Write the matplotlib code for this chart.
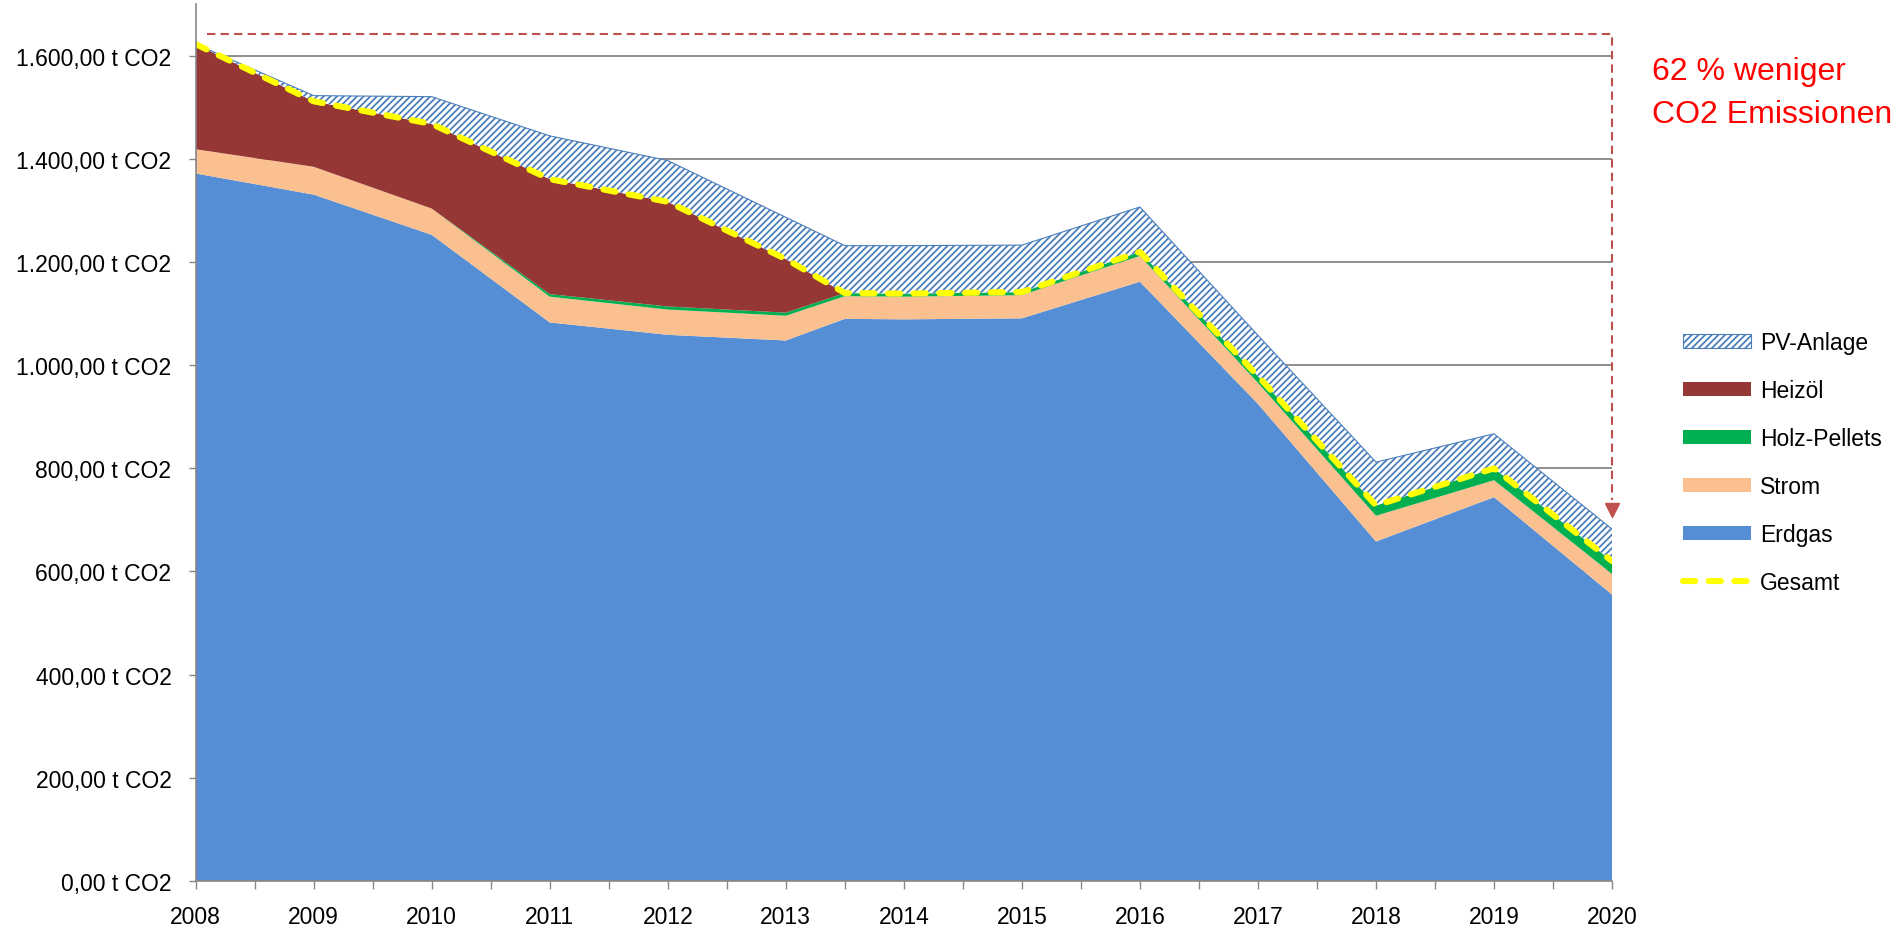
import matplotlib
matplotlib.use("Agg")
import matplotlib.pyplot as plt
import numpy as np
from matplotlib.patches import Patch
from matplotlib.lines import Line2D
from matplotlib.ticker import FixedLocator, FuncFormatter

plt.rcParams['font.family'] = ['Liberation Sans', 'DejaVu Sans']
plt.rcParams['hatch.linewidth'] = 1.3

# values (t CO2); 2013.5 is where Heizoel runs out
years = [2008, 2009, 2010, 2011, 2012, 2013, 2013.5, 2014, 2015, 2016, 2017, 2018, 2019, 2020]
erdgas = [1372, 1331, 1253, 1083, 1059, 1048, 1090, 1089, 1091, 1162, 925, 658, 744, 555]
strom = [47, 54, 51, 50, 49, 48, 44, 44, 45, 50, 41, 50, 33, 40]
pellets = [0, 0, 0, 5, 6, 6, 6, 6, 6, 8, 13, 20, 23, 25]
heizoel = [204, 127, 164, 223, 203, 104, 0, 0, 0, 0, 0, 0, 0, 0]
pv = [0, 11, 53, 84, 80, 81, 92, 93, 91, 87, 79, 84, 67, 62]
gesamt = [1623, 1512, 1468, 1361, 1317, 1206, 1140, 1139, 1142, 1220, 979, 728, 800, 620]

year_labels = [str(y) for y in range(2008, 2021)]

c_erdgas = '#558ED5'
c_strom = '#FAC090'
c_pellets = '#00B050'
c_heizoel = '#953735'
c_pv = '#4A7EBB'
c_red = '#C0504D'
c_grid = '#868686'

fig = plt.figure(figsize=(18.99, 9.29), dpi=100)
ax = fig.add_axes([0.1030, 0.0509, 0.7459, 0.9433])

x = np.array(years)
b0 = np.zeros(len(x))
b1 = b0 + erdgas
b2 = b1 + strom
b3 = b2 + pellets
b4 = b3 + heizoel
b5 = b4 + pv

ax.fill_between(x, b0, b1, facecolor=c_erdgas, lw=0, zorder=2)
ax.fill_between(x, b1, b2, facecolor=c_strom, lw=0, zorder=2)
ax.fill_between(x, b2, b3, facecolor=c_pellets, lw=0, zorder=2)
ax.fill_between(x, b3, b4, facecolor=c_heizoel, lw=0, zorder=2)
ax.fill_between(x, b4, b5, facecolor='white', edgecolor=c_pv, hatch='/////', lw=0, zorder=2)
ax.plot(x, b5, color=c_pv, lw=0.8, zorder=3)

ax.plot(x, gesamt, color='#FFFF00', lw=4.4, linestyle=(0, (2.0, 2.2)),
        dash_capstyle='round', zorder=4)

# 62 % marker: dashed bracket from 2008 level down to 2020
ax.plot([2008.1, 2020, 2020], [1643, 1643, 738], color=c_red, lw=1.5,
        linestyle=(0, (4, 2.5)), zorder=5, clip_on=False)
ax.plot([2020], [720], marker='v', ms=10.5, color=c_red, zorder=5, clip_on=False)

ax.set_xlim(2008, 2020)
ax.set_ylim(0, 1700)

ax.set_yticks(range(0, 1601, 200))


def de_fmt(v, pos):
    s = f"{v:,.2f}"
    s = s.replace(',', 'X').replace('.', ',').replace('X', '.')
    return s + " t CO2"


ax.yaxis.set_major_formatter(FuncFormatter(de_fmt))
ax.xaxis.set_major_locator(FixedLocator(range(2008, 2021)))
ax.set_xticklabels(year_labels)
ax.xaxis.set_minor_locator(FixedLocator(np.arange(2008.5, 2020, 1.0)))

ax.tick_params(axis='both', which='both', direction='out', length=5.4, width=1.0,
               color=c_grid, labelsize=16.5, labelcolor='black')
ax.tick_params(axis='y', pad=12)
ax.tick_params(axis='x', pad=12)

ax.yaxis.grid(True, color=c_grid, lw=1.3)
ax.set_axisbelow(True)
for side in ['top', 'right']:
    ax.spines[side].set_visible(False)
for side in ['left', 'bottom']:
    ax.spines[side].set_color(c_grid)
    ax.spines[side].set_linewidth(1.2)
    ax.spines[side].set_zorder(6)

fig.text(0.870, 0.9139, "62 % weniger", color='#FF0000', fontsize=23, va='baseline')
fig.text(0.870, 0.8673, "CO2 Emissionen", color='#FF0000', fontsize=23, va='baseline')

handles = [
    Patch(facecolor='white', edgecolor=c_pv, hatch='/////', lw=0.8),
    Patch(facecolor=c_heizoel),
    Patch(facecolor=c_pellets),
    Patch(facecolor=c_strom),
    Patch(facecolor=c_erdgas),
    Line2D([0], [0], color='#FFFF00', lw=4.4, linestyle=(0, (2.0, 2.2)), dash_capstyle='round'),
]
labels = ['PV-Anlage', 'Heizöl', 'Holz-Pellets', 'Strom', 'Erdgas', 'Gesamt']
fig.legend(handles, labels, loc='upper left', bbox_to_anchor=(0.8863, 0.6425),
           bbox_transform=fig.transFigure, frameon=False, fontsize=16.5,
           handlelength=2.97, handleheight=0.61, handletextpad=0.39,
           labelspacing=1.09, borderpad=0, borderaxespad=0)

fig.savefig('out.png', dpi=100)
